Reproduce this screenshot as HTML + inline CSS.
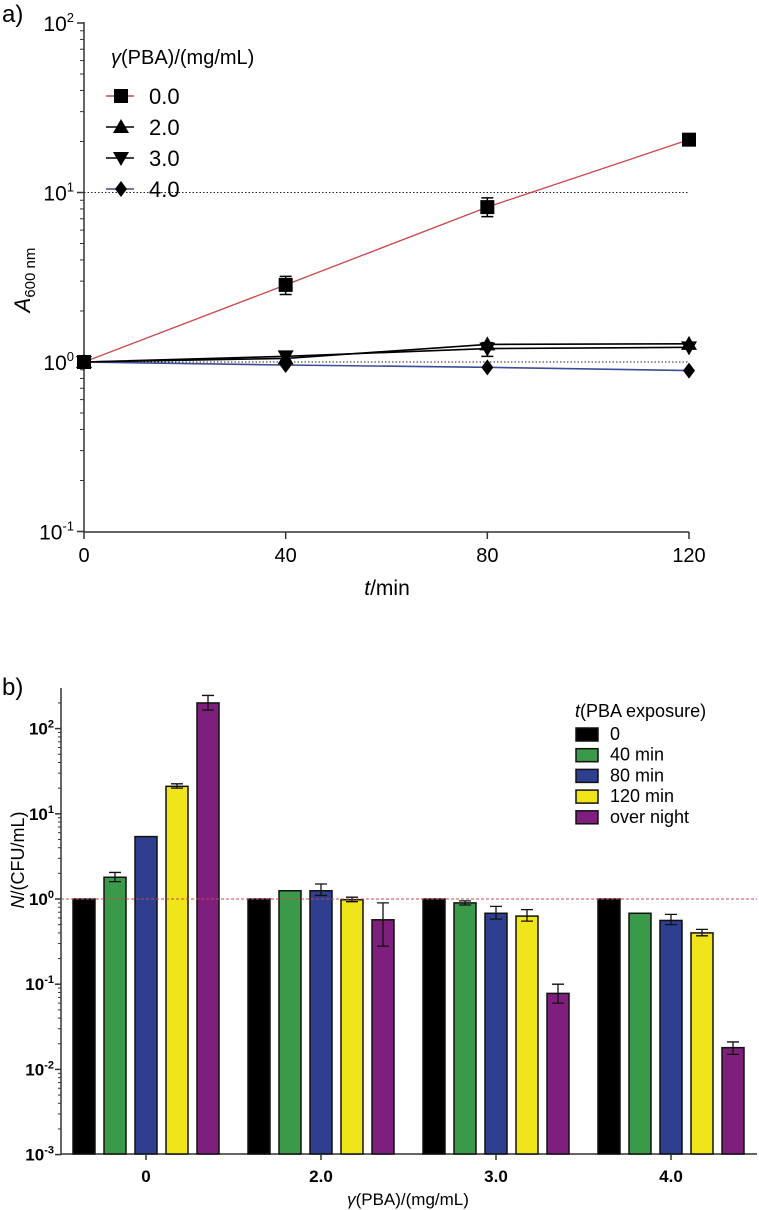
<!DOCTYPE html>
<html><head><meta charset="utf-8"><style>
html,body{margin:0;padding:0;background:#fff;}
svg{display:block;font-family:"Liberation Sans",sans-serif;}
</style></head><body>
<svg id="fig" width="759" height="1210" viewBox="0 0 759 1210" xmlns="http://www.w3.org/2000/svg">
<text x="2" y="22" font-size="24">a)</text>
<text x="2" y="695" font-size="24">b)</text>
<g id="top"></g>
<g id="bot"></g>
</svg>
<script>
// ---- Top chart data ----
const times = [0, 40, 80, 120];
const seriesNames = ["0.0", "2.0", "3.0", "4.0"];
const s00 = [1, 2.85, 8.2, 20.5];
const s00Lo = [1, 2.5, 7.2, 20.5];
const s00Hi = [1, 3.2, 9.3, 20.5];
const s20 = [1, 1.05, 1.27, 1.28];
const s30 = [1, 1.08, 1.2, 1.22];
const s30Lo = [1, 1.08, 1.08, 1.22];
const s30Hi = [1, 1.08, 1.3, 1.22];
const s40 = [1, 0.96, 0.93, 0.89];
const topTicks = [2, 1, 0, -1];
const xTicks = ["0", "40", "80", "120"];
// ---- Bottom chart data ----
const groups = ["0", "2.0", "3.0", "4.0"];
const expLabels = ["0", "40 min", "80 min", "120 min", "over night"];
const b0 = [1, 1.8, 5.4, 21, 200];
const b2 = [1, 1.25, 1.25, 0.98, 0.57];
const b3 = [1, 0.9, 0.68, 0.63, 0.078];
const b4 = [1, 0.68, 0.56, 0.4, 0.018];
const e0Lo = [1, 1.6, 5.4, 20, 165], e0Hi = [1, 2.05, 5.4, 22.5, 245];
const e2Lo = [1, 1.25, 1.1, 0.93, 0.28], e2Hi = [1, 1.25, 1.5, 1.05, 0.9];
const e3Lo = [1, 0.85, 0.58, 0.55, 0.06], e3Hi = [1, 0.95, 0.82, 0.75, 0.1];
const e4Lo = [1, 0.68, 0.5, 0.37, 0.015], e4Hi = [1, 0.68, 0.66, 0.44, 0.021];
const botTicks = [2, 1, 0, -1, -2, -3];

const NS = "http://www.w3.org/2000/svg";
function mk(tag, attrs, parent, txt) {
  const e = document.createElementNS(NS, tag);
  for (const k in attrs) e.setAttribute(k, attrs[k]);
  if (txt !== undefined) e.textContent = txt;
  parent.appendChild(e);
  return e;
}
// ---------- TOP ----------
const T = document.getElementById('top');
const tx = t => 84 + t * (689 - 84) / 120;
const ty = v => 362 - Math.log10(v) * 169.5;
let ax = mk('line', {x1: 84, y1: 22, x2: 84, y2: 532, stroke: '#333', 'stroke-width': 1.5}, T);


ax = mk('line', {x1: 84, y1: 532, x2: 689, y2: 532, stroke: '#333', 'stroke-width': 1.5}, T);


for (let d = -1; d <= 1; d++) for (let m = 2; m <= 9; m++) {
  const y = ty(m * Math.pow(10, d));
  mk('line', {x1: 80, y1: y, x2: 84, y2: y, stroke: '#333', 'stroke-width': 1}, T);
}
topTicks.forEach(p => {
  const y = ty(Math.pow(10, p));
  mk('line', {x1: 77, y1: y, x2: 84, y2: y, stroke: '#333', 'stroke-width': 1.5}, T);
  const t = mk('text', {x: 74, y: y + 8, 'font-size': 21, 'text-anchor': 'end', transform: `translate(0,0)`}, T);
  
  
  mk('tspan', {}, t, '10');
  mk('tspan', {dy: -9, 'font-size': 13}, t, String(p));
});
times.forEach((tm, i) => {
  const x = tx(tm);
  mk('line', {x1: x, y1: 532, x2: x, y2: 539, stroke: '#333', 'stroke-width': 1.5}, T);
  const t = mk('text', {x: x, y: 562, 'font-size': 20, 'text-anchor': 'middle'}, T, xTicks[i]);
  
  
});
let lab = mk('text', {x: 387, y: 595, 'font-size': 21, 'text-anchor': 'middle'}, T);


mk('tspan', {'font-style': 'italic'}, lab, 't');
mk('tspan', {}, lab, '/min');
lab = mk('text', {x: 0, y: 0, 'font-size': 22, 'text-anchor': 'middle', transform: 'translate(30,280) rotate(-90)'}, T);


mk('tspan', {'font-style': 'italic'}, lab, 'A');
mk('tspan', {'font-size': 15, dy: 5}, lab, '600 nm');
[10, 1].forEach(v => {
  const g = mk('line', {x1: 84, y1: ty(v), x2: 689, y2: ty(v), stroke: '#222', 'stroke-width': 1, 'stroke-dasharray': '1.5,2'}, T);
  
  
});
function marker(parent, kind, x, y) {
  let m;
  if (kind === 0) m = mk('rect', {x: x - 7, y: y - 7, width: 14, height: 14, fill: '#000'}, parent);
  else if (kind === 1) m = mk('polygon', {points: `${x},${y - 8} ${x + 8},${y + 6} ${x - 8},${y + 6}`, fill: '#000'}, parent);
  else if (kind === 2) m = mk('polygon', {points: `${x},${y + 8} ${x + 8},${y - 6} ${x - 8},${y - 6}`, fill: '#000'}, parent);
  else m = mk('polygon', {points: `${x},${y - 8} ${x + 6},${y} ${x},${y + 8} ${x - 6},${y}`, fill: '#000'}, parent);
  
  
}
const seriesData = [s00, s20, s30, s40];
const lineColors = ['#c9474c', '#000', '#000', '#3b4d96'];
[3, 2, 1, 0].forEach(si => {
  const g = mk('g', {}, T);
  
  
  const vals = seriesData[si];
  const pl = mk('polyline', {points: times.map((t, i) => tx(t) + ',' + ty(vals[i])).join(' '), fill: 'none', stroke: lineColors[si], 'stroke-width': si === 0 ? 1.3 : 1.6}, g);
  
  
  let lo = null, hi = null;
  if (si === 0) { lo = s00Lo; hi = s00Hi; }
  if (si === 2) { lo = s30Lo; hi = s30Hi; }
  if (lo) times.forEach((t, i) => {
    if (hi[i] === lo[i]) return;
    const x = tx(t);
    mk('path', {d: `M${x},${ty(lo[i])}V${ty(hi[i])}M${x - 6},${ty(lo[i])}H${x + 6}M${x - 6},${ty(hi[i])}H${x + 6}`, stroke: '#000', 'stroke-width': 1.5, fill: 'none'}, g);
  });
  times.forEach((t, i) => marker(g, si, tx(t), ty(vals[i])));
});
// legend top
const LG = mk('g', {}, T);


lab = mk('text', {x: 111, y: 64, 'font-size': 20}, LG);
mk('tspan', {'font-style': 'italic'}, lab, 'γ');
mk('tspan', {}, lab, '(PBA)/(mg/mL)');
seriesNames.forEach((n, i) => {
  const y = 96 + i * 31;
  const e = mk('g', {}, LG);
  
  
  mk('line', {x1: 106, y1: y, x2: 134, y2: y, stroke: lineColors[i], 'stroke-width': 1.5}, e);
  marker(e, i, 121, y);
  mk('text', {x: 149, y: y + 8, 'font-size': 22}, e, n);
});
// ---------- BOTTOM ----------
const B = document.getElementById('bot');
const by = v => 899 - Math.log10(v) * 85.2;
const gx = gi => 146 + gi * 175;
const bw = 22, pitch = 31;
const cols = ['#000000', '#3a9a4a', '#2e3f8f', '#f0e51a', '#7f1f7d'];
ax = mk('line', {x1: 61, y1: 688, x2: 61, y2: 1155, stroke: '#333', 'stroke-width': 1.5}, B);


ax = mk('line', {x1: 61, y1: 1154, x2: 757, y2: 1154, stroke: '#333', 'stroke-width': 1.5}, B);


for (let d = -3; d <= 2; d++) for (let m = 2; m <= 9; m++) {
  const y = by(m * Math.pow(10, d));
  if (y < 688) continue;
  mk('line', {x1: 58, y1: y, x2: 61, y2: y, stroke: '#333', 'stroke-width': 1}, B);
}
botTicks.forEach(p => {
  const y = by(Math.pow(10, p));
  mk('line', {x1: 55, y1: y, x2: 61, y2: y, stroke: '#333', 'stroke-width': 1.5}, B);
  const t = mk('text', {x: 54, y: y + 6, 'font-size': 17, 'font-weight': 'bold', 'text-anchor': 'end'}, B);
  
  
  mk('tspan', {}, t, '10');
  mk('tspan', {dy: -7, 'font-size': 11}, t, String(p));
});
const gvals = [b0, b2, b3, b4], glo = [e0Lo, e2Lo, e3Lo, e4Lo], ghi = [e0Hi, e2Hi, e3Hi, e4Hi];
groups.forEach((gname, gi) => {
  const g = mk('g', {}, B);
  
  
  gvals[gi].forEach((v, k) => {
    const cx = gx(gi) + (k - 2) * pitch;
    const y = by(v);
    const r = mk('rect', {x: cx - bw / 2, y: y, width: bw, height: 1154 - y, fill: cols[k], stroke: '#111', 'stroke-width': 1.5}, g);
    
    
    const lo = glo[gi][k], hi = ghi[gi][k];
    if (hi !== lo) {
      const e = mk('path', {d: `M${cx},${by(lo)}V${by(hi)}M${cx - 6},${by(lo)}H${cx + 6}M${cx - 6},${by(hi)}H${cx + 6}`, stroke: '#111', 'stroke-width': 1.3, fill: 'none'}, g);
      
      
    }
  });
  mk('line', {x1: gx(gi), y1: 1154, x2: gx(gi), y2: 1160, stroke: '#333', 'stroke-width': 1.5}, B);
  const t = mk('text', {x: gx(gi), y: 1182, 'font-size': 17, 'font-weight': 'bold', 'text-anchor': 'middle'}, B, gname);
  
  
});
let ref = mk('line', {x1: 61, y1: by(1), x2: 757, y2: by(1), stroke: '#c9474c', 'stroke-width': 1, 'stroke-dasharray': '3,2'}, B);


lab = mk('text', {x: 408, y: 1205, 'font-size': 17, 'text-anchor': 'middle'}, B);


mk('tspan', {'font-style': 'italic'}, lab, 'γ');
mk('tspan', {}, lab, '(PBA)/(mg/mL)');
lab = mk('text', {x: 0, y: 0, 'font-size': 18, 'text-anchor': 'middle', transform: 'translate(24,860) rotate(-90)'}, B);


mk('tspan', {'font-style': 'italic'}, lab, 'N');
mk('tspan', {}, lab, '/(CFU/mL)');
const BL = mk('g', {}, B);


lab = mk('text', {x: 575, y: 717, 'font-size': 18}, BL);
mk('tspan', {'font-style': 'italic'}, lab, 't');
mk('tspan', {}, lab, '(PBA exposure)');
expLabels.forEach((n, i) => {
  const y = 734 + i * 20.7;
  const e = mk('g', {}, BL);
  
  
  mk('rect', {x: 576, y: y - 6, width: 22, height: 13, fill: cols[i], stroke: '#111', 'stroke-width': 1.5}, e);
  mk('text', {x: 610, y: y + 6, 'font-size': 18}, e, n);
});
</script>
</body></html>
